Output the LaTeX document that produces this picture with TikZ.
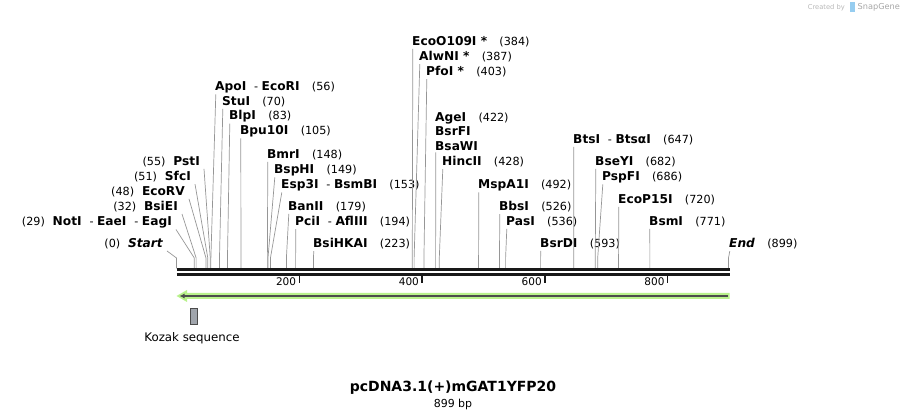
\documentclass[tikz,border=0pt]{standalone}
\usepackage{fontspec}
\setmainfont{DejaVu Sans}
\usetikzlibrary{arrows.meta}

\definecolor{featgreen}{RGB}{185,242,140}
\definecolor{leadgray}{RGB}{150,150,150}
\definecolor{kozakgray}{RGB}{160,165,172}
\definecolor{snapblue}{RGB}{150,205,240}
\newcommand{\bpx}[1]{176.5+0.614*#1}
\newcommand{\ename}[1]{{\fontsize{12.2}{14.6}\selectfont\bfseries #1}}

\tikzset{
  enzR/.style={anchor=west,inner xsep=0pt,inner ysep=1.5pt,font=\fontsize{11.2}{14.6}\selectfont},
  enzL/.style={anchor=east,inner xsep=0pt,inner ysep=1.5pt,font=\fontsize{11.2}{14.6}\selectfont},
  lead/.style={draw=leadgray,line width=0.7pt},
  strand/.style={line width=2.6pt,black!90},
  tickmark/.style={line width=1.3pt,black!90},
  ticklab/.style={anchor=east,inner sep=0pt,font=\fontsize{10.5}{12}\selectfont},
}

\begin{document}
\begin{tikzpicture}[x=1pt,y=-1pt]
\useasboundingbox (0,0) rectangle (906,419);

% cut sites
\foreach \s/\b in {start/0,not/29,bsie/32,ecorv/48,sfc/51,pst/55,apo/56,stu/70,blp/83,bpu/105,
  bmr/148,bsph/149,esp/153,ban/179,pci/194,bsihka/223,ecoo/384,alwn/387,pfo/403,age/422,
  hinc/428,mspa/492,bbs/526,pas/536,bsrd/593,bts/647,bsey/682,pspf/686,ecop/720,bsm/771,fin/899}
  \coordinate (s\s) at ({\bpx{\b}},258);

% labels, left side
\node[enzL] (start) at (163,244) {(0)\hspace{0.7em}\ename{\itshape Start}};
\node[enzL] (not) at (172,222) {(29)\hspace{0.7em}\ename{NotI}\hspace{0.7em}-\ \ename{EaeI}\hspace{0.7em}-\ \ename{EagI}};
\node[enzL] (bsie) at (178,207) {(32)\hspace{0.7em}\ename{BsiEI}};
\node[enzL] (ecorv) at (185,192) {(48)\hspace{0.7em}\ename{EcoRV}};
\node[enzL] (sfc) at (191,177) {(51)\hspace{0.7em}\ename{SfcI}};
\node[enzL] (pst) at (200,162) {(55)\hspace{0.7em}\ename{PstI}};

% labels, right side
\node[enzR] (apo) at (215,87) {\ename{ApoI}\hspace{0.7em}-\ \ename{EcoRI}\hspace{1.1em}(56)};
\node[enzR] (stu) at (222,102) {\ename{StuI}\hspace{1.1em}(70)};
\node[enzR] (blp) at (229,116) {\ename{BlpI}\hspace{1.1em}(83)};
\node[enzR] (bpu) at (240,131) {\ename{Bpu10I}\hspace{1.1em}(105)};
\node[enzR] (bmr) at (267,155) {\ename{BmrI}\hspace{1.1em}(148)};
\node[enzR] (bsph) at (274,170) {\ename{BspHI}\hspace{1.1em}(149)};
\node[enzR] (esp) at (281,185) {\ename{Esp3I}\hspace{0.7em}-\ \ename{BsmBI}\hspace{1.1em}(153)};
\node[enzR] (ban) at (288,207) {\ename{BanII}\hspace{1.1em}(179)};
\node[enzR] (pci) at (295,222) {\ename{PciI}\hspace{0.7em}-\ \ename{AflIII}\hspace{1.1em}(194)};
\node[enzR] (bsihka) at (313,244) {\ename{BsiHKAI}\hspace{1.1em}(223)};
\node[enzR] (ecoo) at (412,42) {\ename{EcoO109I *}\hspace{1.1em}(384)};
\node[enzR] (alwn) at (419,57) {\ename{AlwNI *}\hspace{1.1em}(387)};
\node[enzR] (pfo) at (426,72) {\ename{PfoI *}\hspace{1.1em}(403)};
\node[enzR,align=left] (age) at (435,131.5) {\ename{AgeI}\hspace{1.1em}(422)\\\ename{BsrFI}\\\ename{BsaWI}};
\node[enzR] (hinc) at (442,162) {\ename{HincII}\hspace{1.1em}(428)};
\node[enzR] (mspa) at (478,185) {\ename{MspA1I}\hspace{1.1em}(492)};
\node[enzR] (bbs) at (499,207) {\ename{BbsI}\hspace{1.1em}(526)};
\node[enzR] (pas) at (506,222) {\ename{PasI}\hspace{1.1em}(536)};
\node[enzR] (bsrd) at (540,244) {\ename{BsrDI}\hspace{1.1em}(593)};
\node[enzR] (bts) at (573,140) {\ename{BtsI}\hspace{0.7em}-\ \ename{BtsαI}\hspace{1.1em}(647)};
\node[enzR] (bsey) at (595,162) {\ename{BseYI}\hspace{1.1em}(682)};
\node[enzR] (pspf) at (602,177) {\ename{PspFI}\hspace{1.1em}(686)};
\node[enzR] (ecop) at (618,200) {\ename{EcoP15I}\hspace{1.1em}(720)};
\node[enzR] (bsm) at (649,222) {\ename{BsmI}\hspace{1.1em}(771)};
\node[enzR] (fin) at (729,244) {\ename{\itshape End}\hspace{1.1em}(899)};

% leads
\foreach \n in {start,not,bsie,ecorv,sfc,pst}
  \draw[lead] ([xshift=4pt]\n.south east) -- (s\n) -- ++(0,10.5);
\foreach \n in {apo,stu,blp,bpu,bmr,bsph,esp,ban,pci,bsihka,ecoo,alwn,pfo,age,hinc,mspa,bbs,pas,bsrd,bts,bsey,pspf,ecop,bsm,fin}
  \draw[lead] ([xshift=0.8pt]\n.south west) -- (s\n) -- ++(0,10.5);

% sequence
\draw[strand] (176.5,269.8) -- (729.5,269.8);
\draw[strand] (176.5,274.3) -- (729.5,274.3);
\foreach \t in {200,400,600,800}{
  \draw[tickmark] ({\bpx{\t}},275.5) -- ++(0,7.5);
  \node[ticklab] (t\t) at ({\bpx{\t}-3},282) {\t};
}

% feature
\fill[featgreen] (729.5,293) -- (187,293) -- (187,290) -- (176.5,296) -- (187,302)
  -- (187,299) -- (729.5,299) -- cycle;
\draw[line width=1.8pt,black!70,-{Latex[length=5pt,width=5pt]}] (727.5,296) -- (179.5,296);

\node[draw=black!70,fill=kozakgray,line width=0.6pt,minimum width=6.5pt,minimum height=15.5pt,inner sep=0pt] (kbox) at (193.7,316.2) {};
\node[font=\fontsize{11.8}{14}\selectfont] (kozak) at (192,338) {Kozak sequence};

\node[font=\bfseries\fontsize{14}{16}\selectfont] (title) at (453,388) {pcDNA3.1(+)mGAT1YFP20};
\node[font=\fontsize{11}{13}\selectfont] (len) at (453,404) {899 bp};

\node[anchor=east,inner sep=0pt,text=black!28,font=\fontsize{6.7}{8}\selectfont] (credit) at (845,7.5) {Created by};
\fill[snapblue] (849.5,2.5) rectangle (854.5,12.5);
\node[anchor=west,inner sep=0pt,text=black!35,font=\fontsize{8.2}{10}\selectfont] (snap) at (857.5,7.5) {SnapGene};
\end{tikzpicture}
\end{document}
